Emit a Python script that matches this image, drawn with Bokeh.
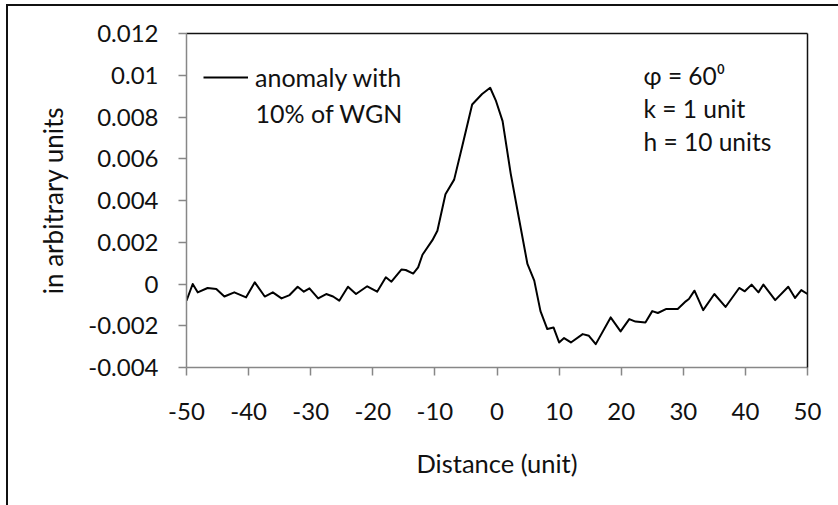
from bokeh.plotting import figure
from bokeh.models import (Range1d, FixedTicker, NumeralTickFormatter, LinearAxis,
                          Legend, LegendItem, Label)
from bokeh.embed import file_html
from bokeh.resources import INLINE

# ---- data ----
distance = [-50, -49.0, -48.2, -46.6, -45.2, -43.9, -42.3, -40.4, -39.0, -37.4,
            -36.1, -34.7, -33.4, -32.1, -31.1, -30.2, -28.8, -27.5, -26.4, -25.4,
            -24.0, -22.7, -20.9, -19.3, -17.9, -17.0, -15.4, -14.7, -13.5, -12.7,
            -12.0, -10.4, -9.6, -8.3, -6.9, -5.6, -4.0, -2.4, -1.1, -0.2, 0.9, 2.2,
            3.5, 4.9, 6.0, 7.0, 8.1, 9.1, 10.0, 10.8, 11.9, 13.8, 14.8, 15.9, 18.3,
            19.9, 21.3, 22.3, 23.9, 25.0, 25.9, 27.2, 29.1, 30.4, 30.9, 31.8, 33.2,
            35.0, 36.8, 39.0, 39.9, 41.0, 42.1, 42.9, 44.8, 46.9, 48.0, 49.0, 50]
anomaly = [-0.0008, 0.0, -0.0004, -0.00019, -0.00024, -0.0006, -0.0004, -0.00064,
           0.00008, -0.0006, -0.0004, -0.00069, -0.00053, -0.00013, -0.00037,
           -0.00021, -0.00069, -0.00048, -0.0006, -0.0008, -0.00013, -0.00048,
           -0.00011, -0.00037, 0.00032, 0.00011, 0.00069, 0.00067, 0.0005, 0.0008,
           0.0014, 0.0021, 0.00255, 0.0043, 0.005, 0.0066, 0.0086, 0.0091, 0.0094,
           0.0088, 0.0078, 0.0053, 0.0032, 0.00096, 0.00016, -0.0013, -0.00216,
           -0.00208, -0.0028, -0.00259, -0.0028, -0.0024, -0.00248, -0.00288,
           -0.0016, -0.00227, -0.00168, -0.0018, -0.00184, -0.0013, -0.00139,
           -0.0012, -0.0012, -0.00083, -0.00072, -0.00032, -0.00125, -0.00048,
           -0.0011, -0.00019, -0.00035, -0.00003, -0.0004, -0.00003, -0.00077,
           -0.00013, -0.00067, -0.00029, -0.00048]
x_ticks = [-50, -40, -30, -20, -10, 0, 10, 20, 30, 40, 50]
x_tick_labels = ["-50", "-40", "-30", "-20", "-10", "0", "10", "20", "30", "40", "50"]
y_ticks = [-0.004, -0.002, 0.0, 0.002, 0.004, 0.006, 0.008, 0.01, 0.012]
legend_lines = ["anomaly with", "10% of WGN"]
params = ["\u03c6 = 60\u2070", "k = 1 unit", "h = 10 units"]
x_title = "Distance (unit)"
y_title = "in arbitrary units"

FONT = "Lato"
TXT = "#111111"
AXIS_GREY = "#878787"

p = figure(width=838, height=505, output_backend="svg", toolbar_location=None,
           x_range=Range1d(-50, 50), y_range=Range1d(-0.004, 0.012),
           min_border_left=186, min_border_right=31, min_border_top=33,
           min_border_bottom=138, background_fill_color="white",
           border_fill_color=None)
# outer chart-area border (left and top edges only), drawn with inset shadows
p.styles = {
    "background-color": "#ffffff",
    "box-shadow": ("inset 0 4px 0 0 #ffffff, inset 6px 0 0 0 #ffffff, "
                   "inset 0 6px 0 0 #111111, inset 8px 0 0 0 #111111"),
}
p.grid.visible = False
p.outline_line_color = None

xa = p.below[0]
ya = p.left[0]
xa.ticker = FixedTicker(ticks=x_ticks)
xa.major_label_overrides = dict(zip(x_ticks, x_tick_labels))
ya.ticker = FixedTicker(ticks=y_ticks)
ya.formatter = NumeralTickFormatter(format="0.[000]")
for ax in (xa, ya):
    ax.axis_line_color = AXIS_GREY
    ax.axis_line_width = 1.5
    ax.major_tick_line_color = AXIS_GREY
    ax.major_tick_line_width = 1.5
    ax.major_tick_in = 0
    ax.major_tick_out = 8
    ax.minor_tick_line_color = None
    ax.major_label_text_font = FONT
    ax.major_label_text_font_size = "24px"
    ax.major_label_text_color = TXT
    ax.axis_label_text_font = FONT
    ax.axis_label_text_font_style = "normal"
    ax.axis_label_text_color = TXT
xa.axis_label = x_title
ya.axis_label = y_title
xa.axis_label_text_font_size = "25.5px"
ya.axis_label_text_font_size = "26px"
xa.major_label_standoff = 27
ya.major_label_standoff = 20
xa.axis_label_standoff = 25
ya.axis_label_standoff = 16

for loc in ("above", "right"):
    ax = LinearAxis(ticker=FixedTicker(ticks=[]), axis_line_color=TXT,
                    axis_line_width=1.5, major_tick_line_color=None,
                    minor_tick_line_color=None, major_label_text_font_size="0px")
    p.add_layout(ax, loc)

r = p.line(distance, anomaly, line_color="black", line_width=2, line_join="round")

legend = Legend(items=[LegendItem(label=legend_lines[0], renderers=[r])],
                location=(17, 275), padding=0, margin=0, spacing=0,
                glyph_width=45, label_standoff=7, border_line_color=None,
                background_fill_alpha=0, label_text_font=FONT,
                label_text_font_size="25px", label_text_color=TXT)
p.add_layout(legend)
p.add_layout(Label(x=-38.88, y=0.00821, text=legend_lines[1], text_font=FONT,
                   text_font_size="25px", text_color=TXT,
                   text_baseline="alphabetic"))

for i, t in enumerate(params):
    p.add_layout(Label(x=23.6, y=0.00999 - i * 0.00157, text=t, text_font=FONT,
                       text_font_size="24.5px", text_color=TXT,
                       text_baseline="alphabetic"))

open("out.html", "w").write(file_html(p, INLINE))
